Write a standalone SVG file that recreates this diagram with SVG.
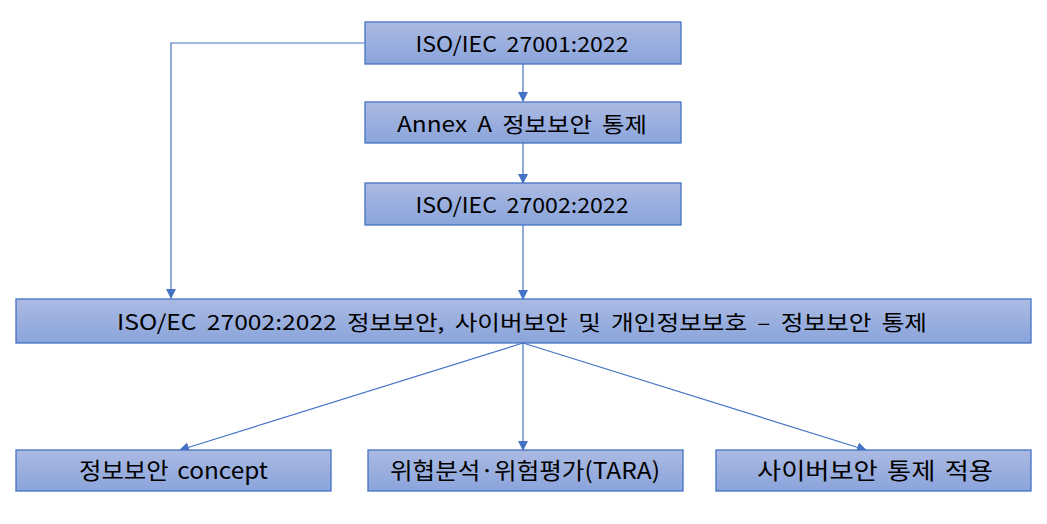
<svg xmlns="http://www.w3.org/2000/svg" width="1047" height="524" viewBox="0 0 1047 524">
<defs>
<linearGradient id="g" x1="0" y1="0" x2="0" y2="1">
<stop offset="0" stop-color="#abbae2"/>
<stop offset="1" stop-color="#8aa4db"/>
</linearGradient>
<marker id="ah" markerWidth="10" markerHeight="10" refX="9" refY="5" orient="auto" markerUnits="userSpaceOnUse">
<path d="M0,0 L10,5 L0,10 Z" fill="#4472c4"/>
</marker>
<style>
.box{fill:url(#g);stroke:#4472c4;stroke-width:1.3}
.t{font-family:"Noto Sans CJK KR","Malgun Gothic",sans-serif;font-size:21px;fill:#000;text-anchor:middle;dominant-baseline:central;word-spacing:4px}
.b{font-size:23px;word-spacing:3px}
.c{fill:none;stroke:#4472c4;stroke-width:1.2;marker-end:url(#ah)}
</style>
</defs>
<g id="connectors">
<path class="c" d="M523,64 V101"/>
<path class="c" d="M523,143 V183"/>
<path class="c" d="M523,225 V299"/>
<path class="c" d="M365,43 H171 V298"/>
<path class="c" d="M523,343 L180,450"/>
<path class="c" d="M523,343 V450"/>
<path class="c" d="M523,343 L866,450"/>
</g>
<g id="n1"><rect class="box" x="365" y="22" width="316" height="42"/><text class="t" x="522" y="43" textLength="213" lengthAdjust="spacingAndGlyphs">ISO/IEC 27001:2022</text></g>
<g id="n2"><rect class="box" x="365" y="102" width="316" height="41"/><text class="t" x="522" y="122.5" textLength="250" lengthAdjust="spacingAndGlyphs">Annex A 정보보안 통제</text></g>
<g id="n3"><rect class="box" x="365" y="183" width="316" height="42"/><text class="t" x="522" y="204" textLength="213" lengthAdjust="spacingAndGlyphs">ISO/IEC 27002:2022</text></g>
<g id="n4"><rect class="box" x="16" y="299" width="1015" height="44"/><text class="t" x="522" y="321" textLength="810" lengthAdjust="spacingAndGlyphs">ISO/EC 27002:2022 정보보안, 사이버보안 및 개인정보보호 – 정보보안 통제</text></g>
<g id="n5"><rect class="box" x="16" y="450" width="315" height="41"/><text class="t b" x="173.5" y="469" textLength="189" lengthAdjust="spacingAndGlyphs">정보보안 concept</text></g>
<g id="n6"><rect class="box" x="368" y="450" width="315" height="41"/><text class="t b" x="525" y="469" textLength="270" lengthAdjust="spacingAndGlyphs">위협분석·위험평가(TARA)</text></g>
<g id="n7"><rect class="box" x="716" y="450" width="315" height="41"/><text class="t b" x="875" y="469" textLength="236" lengthAdjust="spacingAndGlyphs">사이버보안 통제 적용</text></g>
</svg>
